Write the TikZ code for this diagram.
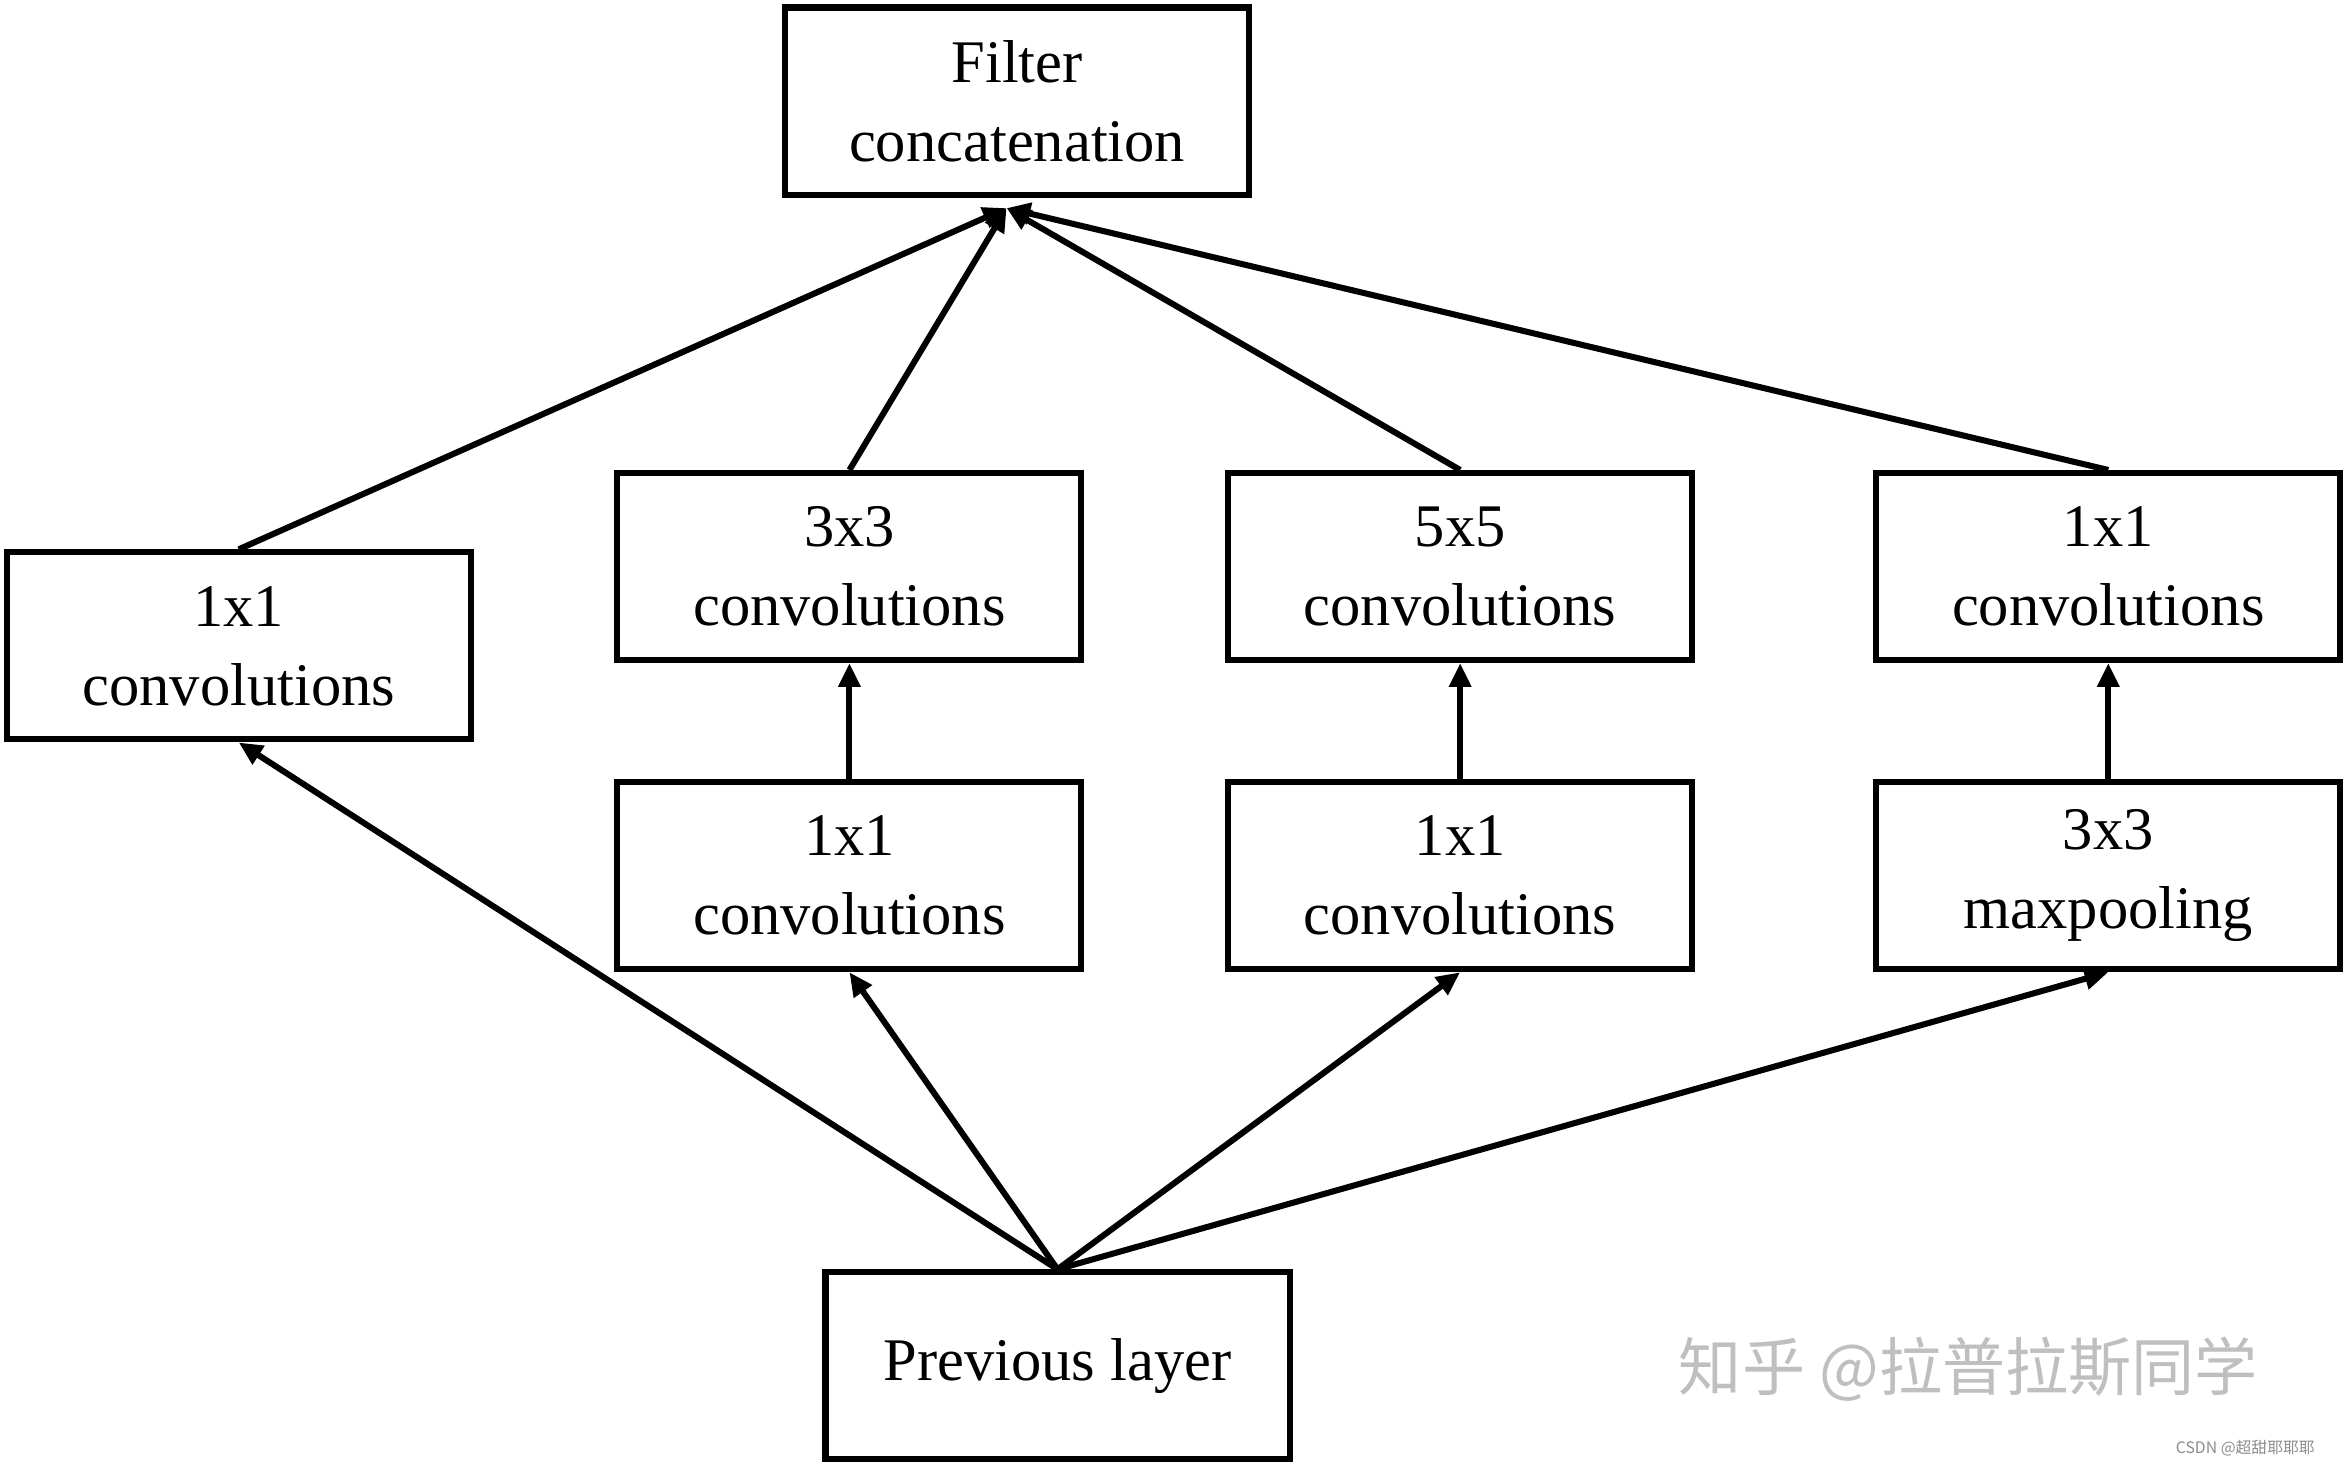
\documentclass[tikz,border=0pt]{standalone}
\usepackage{fontspec}
\setmainfont{Liberation Serif}
\newfontfamily\cjk{Noto Sans CJK SC}
\usetikzlibrary{arrows.meta,positioning}
\tikzset{>={Triangle[length=9pt,width=8pt]}}
\tikzset{layerbox/.style={draw,line width=2.3pt,minimum width=6.2cm,minimum height=2.5cm,align=center,font=\fontsize{23}{30}\selectfont}}
\begin{document}
\begin{tikzpicture}[line width=2.3pt]
        \useasboundingbox (0,0) rectangle (31.36,-19.62);
        \node[layerbox] (cat) at (13.59,-1.35) {Filter\\concatenation};
        \node[layerbox] (cva) at (3.19,-8.63) {1x1\\convolutions};
        \node[layerbox] (cvb) at (11.35,-7.57) {3x3\\convolutions};
        \node[layerbox] (cvc) at (19.51,-7.57) {5x5\\convolutions};
        \node[layerbox] (cvd) at (28.17,-7.57) {1x1\\convolutions};
        \node[layerbox] (rdb) at (11.35,-11.7) {1x1\\convolutions};
        \node[layerbox] (rdc) at (19.51,-11.7) {1x1\\convolutions};
        \node[layerbox] (mxp) at (28.17,-11.7) {3x3\\maxpooling};
        \node[layerbox] (prev) at (14.13,-18.25) {Previous layer};
        \coordinate (join) at (13.45,-2.78);
        %%%%
        \draw[->] (prev.north) -- (cva.south);
        \draw[->] (prev.north) -- (rdb.south);
        \draw[->] (prev.north) -- (rdc.south);
        \draw[->] (prev.north) -- (mxp.south);
        \draw[->] (rdb) -- (cvb);
        \draw[->] (rdc) -- (cvc);
        \draw[->] (mxp) -- (cvd);
        %%%%
        \draw[->] (cva.north) -- (join);
        \draw[->] (cvb.north) -- (join);
        \draw[->] (cvc.north) -- (join);
        \draw[->] (cvd.north) -- (join);
        %%%%
        \node[text=black!25,font=\cjk\fontsize{24}{28}\selectfont] (mark) at (26.3,-18.3) {知乎 @拉普拉斯同学};
        \node[text=black!45,font=\cjk\fontsize{6}{7}\selectfont] (csdn) at (30,-19.35) {CSDN @超甜耶耶耶};
    \end{tikzpicture}
\end{document}
